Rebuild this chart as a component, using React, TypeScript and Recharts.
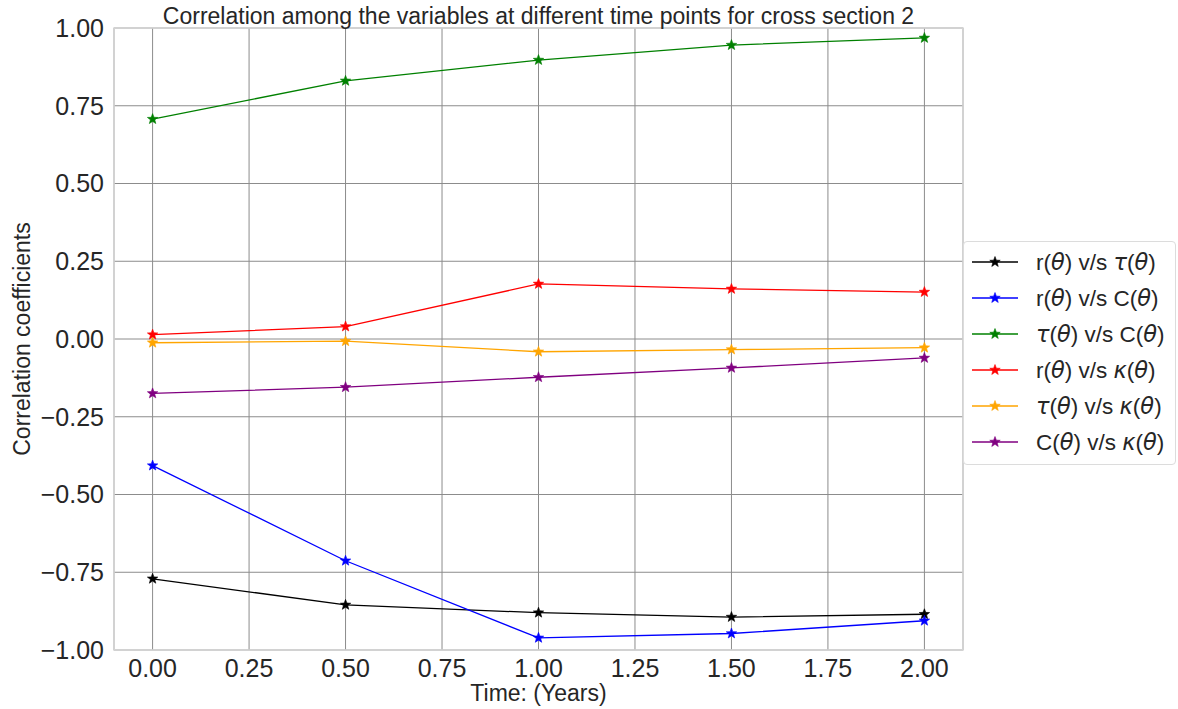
import React from 'react';
import { LineChart, Line, XAxis, YAxis, CartesianGrid, ReferenceArea } from 'recharts';

const times = [0, 0.5, 1, 1.5, 2];
const rTau = [-0.771, -0.855, -0.880, -0.894, -0.885];
const rC = [-0.407, -0.713, -0.961, -0.947, -0.906];
const tauC = [0.707, 0.830, 0.897, 0.945, 0.968];
const rKappa = [0.014, 0.040, 0.177, 0.161, 0.151];
const tauKappa = [-0.012, -0.007, -0.041, -0.034, -0.028];
const cKappa = [-0.175, -0.155, -0.123, -0.093, -0.061];

const xTicks = [0, 0.25, 0.5, 0.75, 1, 1.25, 1.5, 1.75, 2];
const yTicks = [-1, -0.75, -0.5, -0.25, 0, 0.25, 0.5, 0.75, 1];

const titleText = 'Correlation among the variables at different time points for cross section 2';
const xLabelText = 'Time: (Years)';
const yLabelText = 'Correlation coefficients';

const FONT = '"Liberation Sans", Arial, sans-serif';
const MATH = '"DejaVu Sans", sans-serif';
const TXT = '#262626';

type Part = { t: string; m?: boolean };
const series: { key: string; color: string; values: number[]; label: Part[] }[] = [
  { key: 'rTau', color: '#000000', values: rTau, label: [{ t: 'r(' }, { t: 'θ', m: true }, { t: ') v/s ' }, { t: 'τ', m: true }, { t: '(' }, { t: 'θ', m: true }, { t: ')' }] },
  { key: 'rC', color: '#0000ff', values: rC, label: [{ t: 'r(' }, { t: 'θ', m: true }, { t: ') v/s C(' }, { t: 'θ', m: true }, { t: ')' }] },
  { key: 'tauC', color: '#008000', values: tauC, label: [{ t: 'τ', m: true }, { t: '(' }, { t: 'θ', m: true }, { t: ') v/s C(' }, { t: 'θ', m: true }, { t: ')' }] },
  { key: 'rKappa', color: '#ff0000', values: rKappa, label: [{ t: 'r(' }, { t: 'θ', m: true }, { t: ') v/s ' }, { t: 'κ', m: true }, { t: '(' }, { t: 'θ', m: true }, { t: ')' }] },
  { key: 'tauKappa', color: '#ffa500', values: tauKappa, label: [{ t: 'τ', m: true }, { t: '(' }, { t: 'θ', m: true }, { t: ') v/s ' }, { t: 'κ', m: true }, { t: '(' }, { t: 'θ', m: true }, { t: ')' }] },
  { key: 'cKappa', color: '#800080', values: cKappa, label: [{ t: 'C(' }, { t: 'θ', m: true }, { t: ') v/s ' }, { t: 'κ', m: true }, { t: '(' }, { t: 'θ', m: true }, { t: ')' }] },
];

const data = times.map((t, i) => {
  const row: Record<string, number> = { t };
  series.forEach((s) => { row[s.key] = s.values[i]; });
  return row;
});

function starPath(cx: number, cy: number, R: number, r: number) {
  const pts: string[] = [];
  for (let k = 0; k < 10; k++) {
    const rad = k % 2 === 0 ? R : r;
    const a = -Math.PI / 2 + (k * Math.PI) / 5;
    pts.push(`${cx + rad * Math.cos(a)},${cy + rad * Math.sin(a)}`);
  }
  return `M${pts.join('L')}Z`;
}

const Star = ({ cx, cy, color }: { cx: number; cy: number; color: string }) => (
  <path d={starPath(cx, cy, 5.5, 2.3)} fill={color} stroke={color} strokeWidth={0.6} />
);

const fmt = (v: number) => (v < 0 ? '\u2212' + Math.abs(v).toFixed(2) : v.toFixed(2));

const LegendBox = () => (
  <div
    style={{
      position: 'absolute',
      left: 963,
      top: 241,
      width: 211,
      height: 220,
      border: '1px solid #dcdcdc',
      borderRadius: 4,
      background: '#ffffff',
      paddingTop: 2,
      boxSizing: 'content-box',
    }}
  >
    {series.map((s) => (
      <div key={s.key} style={{ height: 36, display: 'flex', alignItems: 'center' }}>
        <svg width={66} height={20} style={{ flex: 'none', marginLeft: 8 }}>
          <line x1={0} y1={10} x2={46} y2={10} stroke={s.color} strokeWidth={1.5} />
          <Star cx={23} cy={10} color={s.color} />
        </svg>
        <span style={{ fontFamily: FONT, fontSize: 22.5, color: TXT, whiteSpace: 'nowrap', marginLeft: -2 }}>
          {s.label.map((p, i) =>
            p.m ? (
              <span key={i} style={{ fontFamily: MATH, fontStyle: 'italic' }}>{p.t}</span>
            ) : (
              <span key={i}>{p.t}</span>
            )
          )}
        </span>
      </div>
    ))}
  </div>
);

export default function App() {
  return (
    <div style={{ position: 'absolute', left: 0, top: 0, width: 1178, height: 709, background: '#fff' }}>
      <LineChart width={1178} height={709} data={data} margin={{ top: 28, right: 215, bottom: 9, left: 14 }}>
        <CartesianGrid stroke="#8c8c8c" strokeWidth={1} />
        <XAxis
          dataKey="t"
          type="number"
          domain={[-0.1, 2.1]}
          ticks={xTicks}
          tickFormatter={fmt}
          tickLine={false}
          axisLine={false}
          tickSize={0}
          tickMargin={9}
          height={50}
          interval={0}
          tick={{ fill: TXT, fontSize: 25, fontFamily: FONT }}
          label={{
            content: ({ viewBox }: any) => (
              <text x={viewBox.x + viewBox.width / 2} y={701} textAnchor="middle" fontFamily={FONT} fontSize={23} fill={TXT}>
                {xLabelText}
              </text>
            ),
          }}
        />
        <YAxis
          type="number"
          domain={[-1, 1]}
          ticks={yTicks}
          tickFormatter={fmt}
          tickLine={false}
          axisLine={false}
          tickSize={0}
          tickMargin={10}
          width={100}
          interval={0}
          tick={{ fill: TXT, fontSize: 25, fontFamily: FONT }}
          label={{
            content: ({ viewBox }: any) => {
              const cx = 22;
              const cy = viewBox.y + viewBox.height / 2;
              return (
                <text x={cx} y={cy} transform={`rotate(-90 ${cx} ${cy})`} textAnchor="middle" dominantBaseline="central" fontFamily={FONT} fontSize={23} fill={TXT}>
                  {yLabelText}
                </text>
              );
            },
          }}
        />
        <ReferenceArea
          x1={-0.1}
          x2={2.1}
          y1={-1}
          y2={1}
          fill="none"
          stroke="#d6d6d6"
          strokeWidth={1.5}
          ifOverflow="visible"
          label={{
            content: ({ viewBox }: any) => (
              <text x={viewBox.x + viewBox.width / 2} y={viewBox.y - 4} textAnchor="middle" fontFamily={FONT} fontSize={23} fill={TXT}>
                {titleText}
              </text>
            ),
          }}
        />
        {series.map((s) => (
          <Line
            key={s.key}
            dataKey={s.key}
            stroke={s.color}
            strokeWidth={1.3}
            isAnimationActive={false}
            dot={(p: any) => <Star key={`${s.key}-${p.index}`} cx={p.cx} cy={p.cy} color={s.color} />}
            activeDot={false}
          />
        ))}
      </LineChart>
      <LegendBox />
    </div>
  );
}
